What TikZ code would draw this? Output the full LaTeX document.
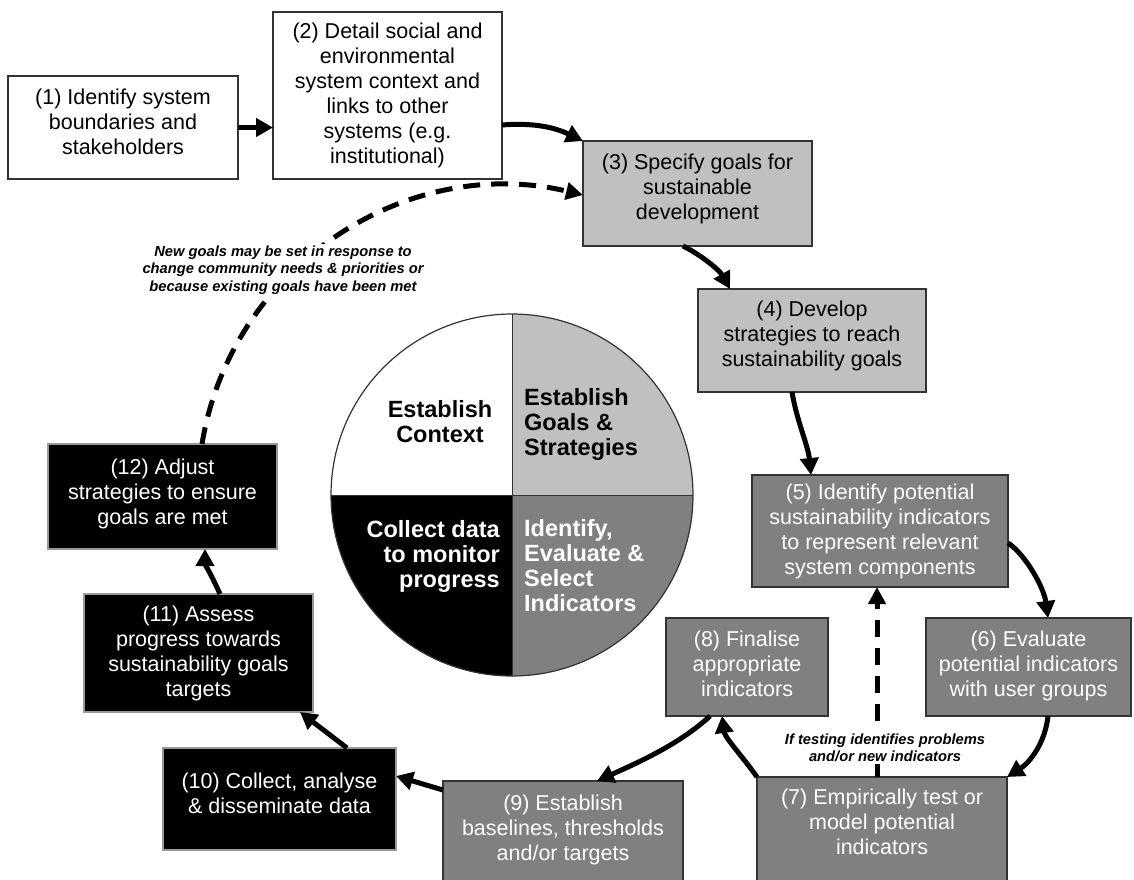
\documentclass[tikz,border=0pt]{standalone}
\usepackage{fontspec}
\setmainfont{Liberation Sans}
\usetikzlibrary{arrows.meta,calc}
\definecolor{lgray}{RGB}{192,192,192}
\definecolor{mgray}{RGB}{128,128,128}
\newcommand\xdepth[1]{\rule[-#1pt]{0pt}{#1pt}}
\begin{document}
\begin{tikzpicture}[x=1pt,y=-1pt,
  box/.style={draw=black!80, line width=1.2pt, align=center, inner sep=0pt, outer sep=0pt, font=\fontsize{21.5}{25}\selectfont},
  whitebox/.style={box, fill=white},
  lightbox/.style={box, fill=lgray},
  midbox/.style={box, fill=mgray, text=white},
  darkbox/.style={box, fill=black, text=white, draw=black!40},
  flow/.style={line width=5pt, -{Triangle[length=17pt,width=18pt]}},
  back/.style={line width=5pt, dash pattern=on 17pt off 11pt, -{Triangle[length=17pt,width=17pt]}},
  note/.style={fill=white, align=center, inner sep=1.5pt, font=\fontsize{14.7}{17.5}\selectfont\bfseries\itshape},
  pietext/.style={inner sep=0pt, font=\fontsize{23.5}{25}\selectfont\bfseries}
]
\useasboundingbox (0,0) rectangle (1134,879);

% boxes
\node[whitebox, minimum width=230pt, minimum height=103pt] (n1) at (123,127.5) {(1) Identify system\\boundaries and\\stakeholders\xdepth{11.3}};
\node[whitebox, minimum width=229pt, minimum height=167pt] (n2) at (387.5,95.5) {(2) Detail social and\\environmental\\system context and\\links to other\\systems (e.g.\\institutional)};
\node[lightbox, minimum width=229pt, minimum height=105pt] (n3) at (697.5,193.5) {(3) Specify goals for\\sustainable\\development\xdepth{14.3}};
\node[lightbox, minimum width=228pt, minimum height=103pt] (n4) at (812,340.5) {(4) Develop\\strategies to reach\\sustainability goals\xdepth{13.3}};
\node[midbox, minimum width=256pt, minimum height=112pt] (n5) at (880,531) {(5) Identify potential\\sustainability indicators\\to represent relevant\\system components};
\node[midbox, minimum width=205pt, minimum height=98pt] (n6) at (1028.5,667) {(6) Evaluate\\potential indicators\\with user groups\xdepth{6.3}};
\node[midbox, anchor=north, minimum width=250pt, inner ysep=12pt] (n7) at (882,777) {(7) Empirically test or\\model potential\\indicators\\\mbox{}};
\node[midbox, minimum width=162pt, minimum height=98pt] (n8) at (747,667) {(8) Finalise\\appropriate\\indicators\xdepth{6.3}};
\node[midbox, anchor=north, minimum width=240pt, inner ysep=14pt] (n9) at (563,781) {(9) Establish\\baselines, thresholds\\and/or targets\\\mbox{}};
\node[darkbox, minimum width=233pt, minimum height=102pt] (n10) at (279.5,799) {(10) Collect, analyse\\\& disseminate data\xdepth{12.3}};
\node[darkbox, minimum width=229pt, minimum height=118pt] (n11) at (198.5,653) {(11) Assess\\progress towards\\sustainability goals\\targets};
\node[darkbox, minimum width=229pt, minimum height=105pt] (n12) at (162.5,496.5) {(12) Adjust\\strategies to ensure\\goals are met\xdepth{10.3}};

% pie
\node[circle, minimum size=362pt, inner sep=0pt, outer sep=0pt] (pie) at (512,495) {};
\begin{scope}
  \clip (pie.center) circle[radius=181pt];
  \fill[white] (pie.center) rectangle ($(pie.center)+(-185,-185)$);
  \fill[lgray] (pie.center) rectangle ($(pie.center)+(185,-185)$);
  \fill[black] (pie.center) rectangle ($(pie.center)+(-185,185)$);
  \fill[mgray] (pie.center) rectangle ($(pie.center)+(185,185)$);
\end{scope}
\draw[black!80, line width=1pt] (pie.north) -- (pie.south) (pie.west) -- (pie.east);
\draw[black!80, line width=1.2pt] (pie.center) circle[radius=181pt];
\node[pietext, align=center] (c1) at (440,422) {Establish\\Context};
\node[pietext, align=left, anchor=west] (c2) at (524,424.3) {Establish\\Goals \&\\Strategies};
\node[pietext, align=right, anchor=east, text=white] (c3) at (500,556) {Collect data\\to monitor\\progress};
\node[pietext, align=left, anchor=west, text=white] (c4) at (524,566) {Identify,\\Evaluate \&\\Select\\Indicators};

% connectors
\draw[flow] (n1.east) -- (n1.east -| n2.west);
\draw[flow] ($(n2.east)+(0,29.5)$) .. controls +(38,-3) and +(-23,-11) .. (n3.north west);
\draw[flow] ($(n3.south)+(-14.5,0)$) .. controls +(20,10) and +(-10,-18) .. ($(n4.north west)+(32,0)$);
\draw[flow] ($(n4.south)+(-20,0)$) .. controls +(5,30) and +(-3,-30) .. ($(n5.north)+(-69,0)$);
\draw[flow] ($(n5.east)+(0,12)$) .. controls +(18,12) and +(-4,-30) .. ($(n6.north)+(19.5,0)$);
\draw[flow] ($(n6.south)+(19.5,0)$) .. controls +(-3,28) and +(22,-14) .. (n7.north east);
\draw[flow] (n7.north west) .. controls +(-14,-20) and +(3,22) .. ($(n8.south)+(-25,0)$);
\draw[flow] ($(n8.south)+(-37,0)$) .. controls +(-30,28) and +(40,-18) .. ($(n9.north)+(34,0)$);
\draw[flow] ($(n9.north west)+(0,9)$) -- ($(n10.east)+(0,-23)$);
\draw[flow] ($(n10.north)+(67.5,0)$) -- ($(n11.south east)+(-13,0)$);
\draw[flow] ($(n11.north)+(21.5,0)$) .. controls +(-8,-18) and +(0,15) .. ($(n12.south)+(42.5,0)$);
\draw[back] ($(n12.north)+(39.5,0)$) .. controls +(29,-178) and +(-176,-42) .. ($(n3.west)+(0,1.5)$);
\draw[back] ($(n7.north)+(-5,0)$) -- ($(n5.south)+(-3,0)$);

% labels
\node[note] (lab1) at (283,270) {New goals may be set in response to\\change community needs \& priorities or\\because existing goals have been met};
\node[note] (lab2) at (885,748) {If testing identifies problems\\and/or new indicators};
\end{tikzpicture}
\end{document}
